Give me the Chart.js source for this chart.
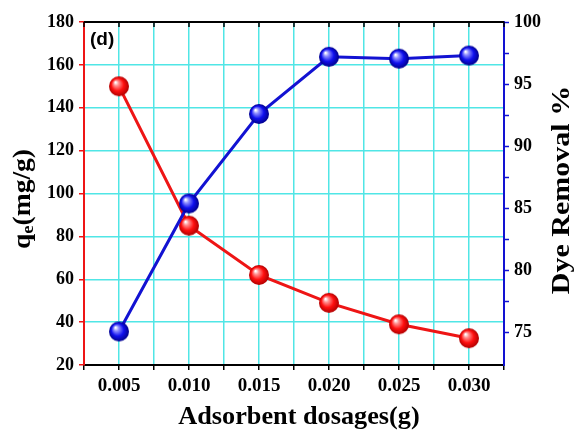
<!DOCTYPE html>
<html>
<head>
<meta charset="utf-8">
<script src="https://cdn.jsdelivr.net/npm/chart.js@4/dist/chart.umd.min.js"></script>
<style>
  html, body { margin: 0; padding: 0; background: #fff; }
  #wrap { width: 576px; height: 432px; }
</style>
</head>
<body>
<div id="wrap"><canvas id="c" width="576" height="432"></canvas></div>
<script>
// datos (d)
const dosages = [0.005, 0.010, 0.015, 0.020, 0.025, 0.030];
const qeValues = [150, 85, 62, 49, 39, 32.5];
const removalValues = [75.1, 85.4, 92.6, 97.2, 97.05, 97.3];

const xTitle = 'Adsorbent dosages(g)';
const rightTitle = 'Dye Removal %';
const panelLabel = '(d)';

const RED = '#ee1515';
const BLUE = '#1212d2';
const CYAN = '#50e6e6';
const SERIF = '"Liberation Serif", "Times New Roman", serif';

// esfera con brillo para los marcadores
function sphere(r, light, base, dark) {
    const c = document.createElement('canvas');
    c.width = c.height = 2 * r + 2;
    const g = c.getContext('2d');
    const cx = r + 1, cy = r + 1;
    const grad = g.createRadialGradient(cx - r * 0.35, cy - r * 0.4, r * 0.05, cx, cy, r);
    grad.addColorStop(0, '#ffffff');
    grad.addColorStop(0.22, light);
    grad.addColorStop(0.6, base);
    grad.addColorStop(1, dark);
    g.fillStyle = grad;
    g.beginPath();
    g.arc(cx, cy, r, 0, Math.PI * 2);
    g.fill();
    return c;
}
const redBall = sphere(10, '#ff9090', '#ff1010', '#b00000');
const blueBall = sphere(10, '#9090ff', '#1010ee', '#00008a');

// titulos de ejes y etiqueta (d), borde superior
const decor = {
    id: 'decor',
    beforeDatasetsDraw(chart) {
        const { ctx, chartArea: a, scales } = chart;
        ctx.save();
        // borde superior y marcas hacia dentro
        ctx.strokeStyle = '#000';
        ctx.lineWidth = 2;
        ctx.beginPath();
        ctx.moveTo(a.left, a.top);
        ctx.lineTo(a.right, a.top);
        ctx.stroke();
        ctx.lineWidth = 1.5;
        scales.x.ticks.forEach(t => {
            const px = scales.x.getPixelForValue(t.value);
            ctx.beginPath();
            ctx.moveTo(px, a.top);
            ctx.lineTo(px, a.top + 5);
            ctx.stroke();
        });
        ctx.restore();
    },
    afterDraw(chart) {
        const { ctx, chartArea: a } = chart;
        ctx.save();
        ctx.fillStyle = '#000';

        // (d)
        ctx.font = 'bold 19px "Liberation Sans", Arial, sans-serif';
        ctx.textAlign = 'left';
        ctx.textBaseline = 'middle';
        ctx.fillText(panelLabel, a.left + 6, a.top + 18);

        // q_e(mg/g) a la izquierda
        ctx.save();
        ctx.translate(24, 199);
        ctx.rotate(-Math.PI / 2);
        ctx.scale(1.1, 1);
        const big = 'bold 25px ' + SERIF;
        const small = 'bold 17px ' + SERIF;
        ctx.font = big; const wq = ctx.measureText('q').width;
        const wr = ctx.measureText('(mg/g)').width;
        ctx.font = small; const we = ctx.measureText('e').width;
        let x0 = -(wq + we + wr) / 2;
        ctx.textAlign = 'left';
        ctx.textBaseline = 'middle';
        ctx.font = big; ctx.fillText('q', x0, 0);
        ctx.font = small; ctx.fillText('e', x0 + wq, 5);
        ctx.font = big; ctx.fillText('(mg/g)', x0 + wq + we, 0);
        ctx.restore();

        // titulo derecho
        ctx.save();
        ctx.translate(563, 190);
        ctx.rotate(-Math.PI / 2);
        ctx.scale(1.2, 1);
        ctx.font = 'bold 25px ' + SERIF;
        ctx.textAlign = 'center';
        ctx.textBaseline = 'middle';
        ctx.fillText(rightTitle, 0, 0);
        ctx.restore();

        // titulo inferior
        ctx.save();
        ctx.translate(299, 418);
        ctx.scale(1.05, 1);
        ctx.font = 'bold 25px ' + SERIF;
        ctx.textAlign = 'center';
        ctx.textBaseline = 'middle';
        ctx.fillText(xTitle, 0, 0);
        ctx.restore();
        ctx.restore();
    }
};

const tickFont = { family: SERIF, size: 18, weight: 'bold' };

new Chart(document.getElementById('c'), {
    type: 'line',
    data: {
        datasets: [
            {
                label: 'Dye Removal %',
                data: dosages.map((d, i) => ({ x: d, y: removalValues[i] })),
                yAxisID: 'y1',
                borderColor: BLUE,
                borderWidth: 3,
                pointStyle: blueBall,
                pointRadius: 10,
                order: 1
            },
            {
                label: 'qe',
                data: dosages.map((d, i) => ({ x: d, y: qeValues[i] })),
                yAxisID: 'y',
                borderColor: RED,
                borderWidth: 3,
                pointStyle: redBall,
                pointRadius: 10,
                order: 2
            }
        ]
    },
    options: {
        responsive: false,
        animation: false,
        layout: { padding: { top: 22, left: 0, right: 0, bottom: 0 } },
        plugins: { legend: { display: false }, tooltip: { enabled: false } },
        scales: {
            x: {
                type: 'linear',
                min: 0.0025,
                max: 0.0325,
                afterFit: s => { s.height = 67; },
                border: { color: '#000', width: 2 },
                grid: { color: CYAN, lineWidth: 1.5, tickColor: '#000', tickLength: 5, tickWidth: 1.5 },
                ticks: {
                    stepSize: 0.0025,
                    autoSkip: false,
                    maxRotation: 0,
                    padding: 5,
                    color: '#000',
                    font: { family: SERIF, size: 19, weight: 'bold' },
                    callback: v => (Math.round(v * 10000) % 50 === 0 ? v.toFixed(3) : '')
                }
            },
            y: {
                position: 'left',
                min: 20,
                max: 180,
                afterFit: s => { s.width = 84; },
                border: { color: RED, width: 2 },
                grid: { color: CYAN, lineWidth: 1.5, tickColor: RED, tickLength: 5, tickWidth: 1.5 },
                ticks: {
                    stepSize: 10,
                    padding: 5,
                    color: '#000',
                    font: tickFont,
                    callback: v => (v % 20 === 0 ? v : '')
                }
            },
            y1: {
                position: 'right',
                min: 72.4,
                max: 100,
                afterFit: s => { s.width = 72; },
                afterBuildTicks: s => { s.ticks = s.ticks.filter(t => t.value >= 75); },
                border: { color: BLUE, width: 2 },
                grid: { drawOnChartArea: false, tickColor: BLUE, tickLength: 5, tickWidth: 1.5 },
                ticks: {
                    stepSize: 2.5,
                    includeBounds: false,
                    padding: 5,
                    color: '#000',
                    font: tickFont,
                    callback: v => (v % 5 === 0 ? v : '')
                }
            }
        }
    },
    plugins: [decor]
});
</script>
</body>
</html>
